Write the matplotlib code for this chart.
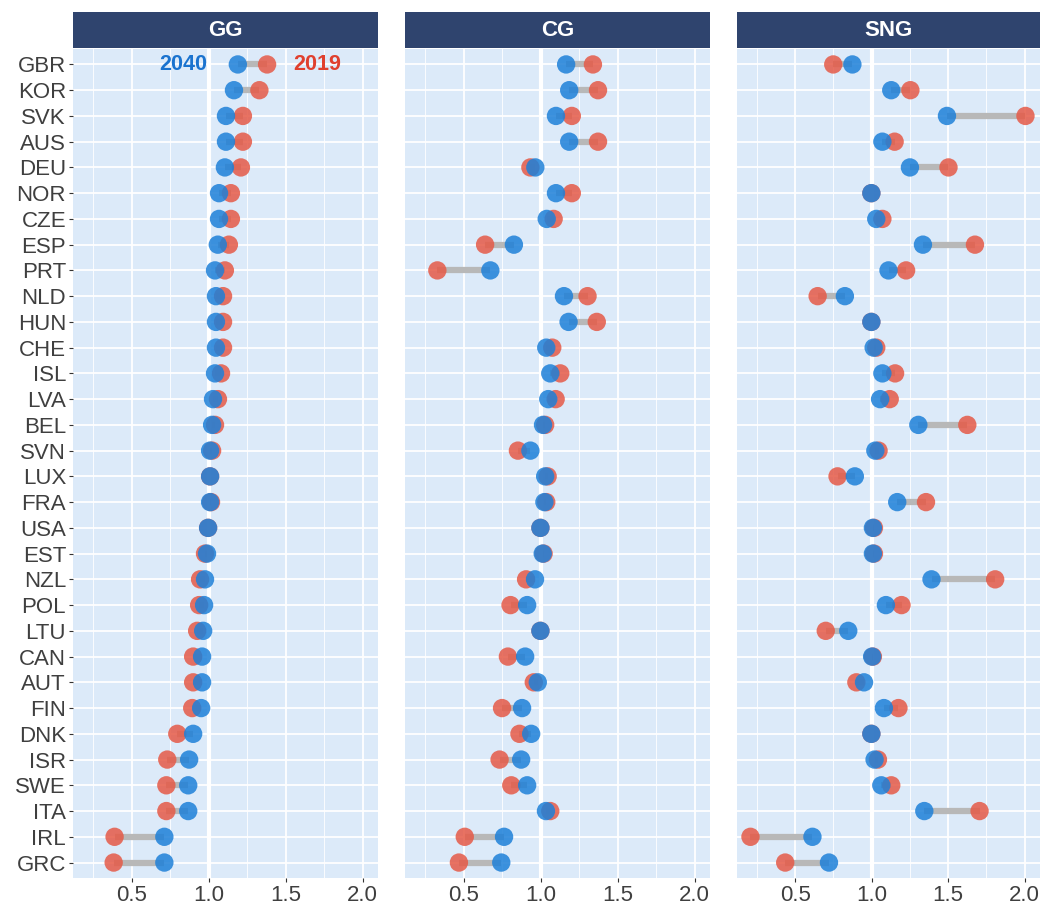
import matplotlib
matplotlib.use("Agg")
import matplotlib.pyplot as plt
from matplotlib.ticker import MultipleLocator

plt.rcParams['font.family'] = ['Liberation Sans', 'DejaVu Sans']

countries = ["GBR", "KOR", "SVK", "AUS", "DEU", "NOR", "CZE", "ESP", "PRT", "NLD",
             "HUN", "CHE", "ISL", "LVA", "BEL", "SVN", "LUX", "FRA", "USA", "EST",
             "NZL", "POL", "LTU", "CAN", "AUT", "FIN", "DNK", "ISR", "SWE", "ITA",
             "IRL", "GRC"]

panels = ["GG", "CG", "SNG"]

gg_2019 = [1.38, 1.33, 1.223, 1.223, 1.21, 1.145, 1.145, 1.132, 1.106, 1.094,
           1.094, 1.094, 1.081, 1.061, 1.042, 1.023, 1.01, 1.016, 0.997, 0.977,
           0.945, 0.939, 0.926, 0.90, 0.90, 0.894, 0.797, 0.732, 0.726, 0.726,
           0.39, 0.384]
gg_2040 = [1.19, 1.165, 1.113, 1.113, 1.106, 1.068, 1.068, 1.06, 1.042, 1.048,
           1.048, 1.048, 1.042, 1.029, 1.023, 1.01, 1.01, 1.01, 0.997, 0.99,
           0.977, 0.971, 0.965, 0.958, 0.958, 0.952, 0.90, 0.874, 0.868, 0.868,
           0.713, 0.713]

cg_2019 = [1.34, 1.373, 1.203, 1.373, 0.934, 1.203, 1.085, 0.64, 0.33, 1.305,
           1.365, 1.076, 1.128, 1.098, 1.03, 0.853, 1.046, 1.037, 0.999, 1.02,
           0.906, 0.805, 0.999, 0.788, 0.956, 0.75, 0.863, 0.734, 0.81, 1.063,
           0.508, 0.47]
cg_2040 = [1.166, 1.186, 1.10, 1.186, 0.966, 1.10, 1.04, 0.827, 0.674, 1.152,
           1.182, 1.037, 1.063, 1.05, 1.016, 0.934, 1.03, 1.025, 0.999, 1.014,
           0.964, 0.913, 0.999, 0.90, 0.982, 0.88, 0.939, 0.874, 0.913, 1.035,
           0.763, 0.745]

sng_2019 = [0.749, 1.253, 2.005, 1.15, 1.502, 0.998, 1.07, 1.675, 1.225, 0.647,
            0.998, 1.03, 1.153, 1.118, 1.625, 1.045, 0.777, 1.355, 1.015, 1.015,
            1.807, 1.195, 0.70, 1.008, 0.90, 1.175, 0.998, 1.041, 1.128, 1.705,
            0.208, 0.435]
sng_2040 = [0.874, 1.128, 1.492, 1.07, 1.25, 0.998, 1.03, 1.335, 1.11, 0.825,
            0.998, 1.013, 1.07, 1.055, 1.305, 1.024, 0.89, 1.167, 1.008, 1.008,
            1.391, 1.093, 0.847, 1.003, 0.95, 1.08, 0.998, 1.019, 1.063, 1.344,
            0.613, 0.721]

x_ticks = [0.5, 1.0, 1.5, 2.0]
x_ticklabels = ["0.5", "1.0", "1.5", "2.0"]

data_2019 = {"GG": gg_2019, "CG": cg_2019, "SNG": sng_2019}
data_2040 = {"GG": gg_2040, "CG": cg_2040, "SNG": sng_2040}

W, H = 1042, 909
fig = plt.figure(figsize=(W / 100, H / 100), dpi=100)
fig.patch.set_facecolor("white")

panel_x = [(73, 378), (405, 710), (737, 1040)]
plot_top, plot_bot = 49, 878
strip_top, strip_bot = 12, 48

BG = "#DCEAF9"
STRIP = "#2F446E"
RED = "#E55A47"
BLUE = "#1E80D8"
SEG = "#B8B8B8"
TXT = "#3F3F3F"

n = len(countries)
ypos = list(range(n))

for i, p in enumerate(panels):
    x0, x1 = panel_x[i]
    ax = fig.add_axes([x0 / W, 1 - plot_bot / H, (x1 - x0) / W, (plot_bot - plot_top) / H])
    ax.set_facecolor(BG)
    for s in ax.spines.values():
        s.set_visible(False)
    ax.set_xlim(0.12, 2.1)
    ax.set_ylim(n - 1 + 0.6, -0.6)
    ax.xaxis.set_major_locator(MultipleLocator(0.5))
    ax.xaxis.set_minor_locator(MultipleLocator(0.25))
    ax.set_xticks(x_ticks)
    ax.set_xticklabels(x_ticklabels)
    ax.set_yticks(ypos)
    ax.grid(which="major", color="white", linewidth=1.3)
    ax.grid(which="minor", axis="x", color="white", linewidth=0.6)
    ax.set_axisbelow(True)
    ax.axvline(1.0, color="white", linewidth=3.0, zorder=1)
    ax.tick_params(axis="x", which="major", length=3, color="#333333",
                   labelsize=16, labelcolor=TXT, pad=2)
    ax.tick_params(axis="x", which="minor", length=0)
    if i == 0:
        ax.set_yticklabels(countries)
        ax.tick_params(axis="y", length=3, color="#333333", labelsize=16,
                       labelcolor=TXT, pad=2)
    else:
        ax.set_yticklabels([])
        ax.tick_params(axis="y", length=0)

    v19 = data_2019[p]
    v40 = data_2040[p]
    ax.hlines(ypos, v19, v40, color=SEG, linewidth=4.5, zorder=2)
    ax.scatter(v19, ypos, s=175, color=RED, alpha=0.85, edgecolors="none", zorder=3)
    ax.scatter(v40, ypos, s=175, color=BLUE, alpha=0.85, edgecolors="none", zorder=4)

    if p == "GG":
        ax.text(0.835, 0, "2040", color="#1A73CF", fontsize=15.5, fontweight="bold",
                ha="center", va="center", zorder=5)
        ax.text(1.705, 0, "2019", color="#E0402E", fontsize=15.5, fontweight="bold",
                ha="center", va="center", zorder=5)

    sax = fig.add_axes([x0 / W, 1 - strip_bot / H, (x1 - x0) / W, (strip_bot - strip_top) / H])
    sax.set_facecolor(STRIP)
    sax.set_xticks([])
    sax.set_yticks([])
    for s in sax.spines.values():
        s.set_visible(False)
    sax.text(0.5, 0.5, p, color="white", fontsize=16, fontweight="bold",
             ha="center", va="center", transform=sax.transAxes)

fig.savefig("out.png", dpi=100, facecolor="white")
